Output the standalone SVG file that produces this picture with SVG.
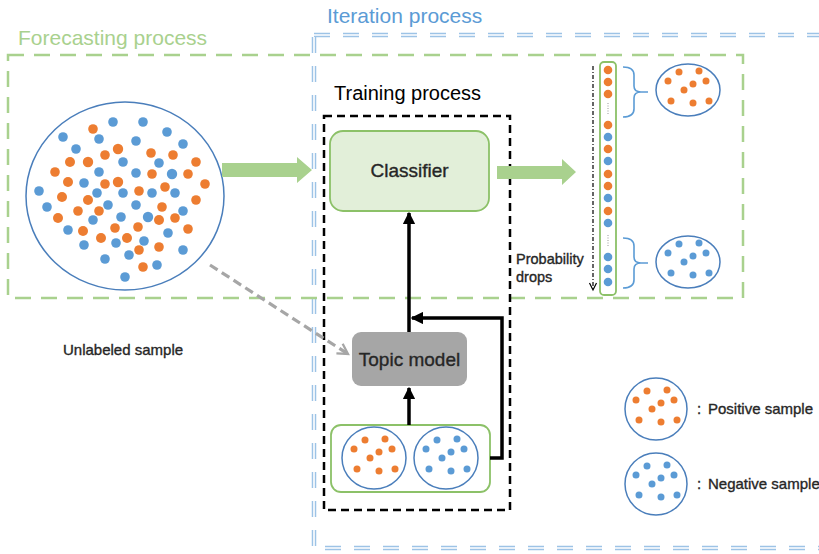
<svg xmlns="http://www.w3.org/2000/svg" xmlns:xlink="http://www.w3.org/1999/xlink" width="819" height="554" viewBox="0 0 819 554">
<style>
.t{font-family:"Liberation Sans",Arial,sans-serif;fill:#262626}
.hv{stroke:#262626;stroke-width:0.35}
.ring{fill:#fff;stroke:#4a7ebb;stroke-width:1.5}
.o{fill:#ed7d31}
.b{fill:#5b9bd5}
.blk{stroke:#000;stroke-width:3.5;fill:none}
</style>
<defs>
<g id="pdots" class="o">
<circle cx="-9" cy="-18" r="3.5"/><circle cx="11" cy="-19" r="3.5"/><circle cx="-20" cy="-9" r="3.5"/><circle cx="18" cy="-9" r="3.5"/><circle cx="5" cy="-6" r="3.5"/><circle cx="-4" cy="0" r="3.5"/><circle cx="-17" cy="11" r="3.5"/><circle cx="5" cy="13" r="3.5"/><circle cx="21" cy="11" r="3.5"/>
</g>
<g id="ndots" class="b">
<circle cx="-9" cy="-18" r="3.5"/><circle cx="11" cy="-19" r="3.5"/><circle cx="-20" cy="-9" r="3.5"/><circle cx="18" cy="-9" r="3.5"/><circle cx="5" cy="-6" r="3.5"/><circle cx="-4" cy="0" r="3.5"/><circle cx="-17" cy="11" r="3.5"/><circle cx="5" cy="13" r="3.5"/><circle cx="21" cy="11" r="3.5"/>
</g>
<marker id="ah" viewBox="0 0 10 10" refX="9" refY="5" markerWidth="3.6" markerHeight="3.6" orient="auto" markerUnits="strokeWidth">
<path d="M0,0 L10,5 L0,10 z" fill="#000"/>
</marker>
<marker id="gh" viewBox="0 0 10 10" refX="8" refY="5" markerWidth="4.5" markerHeight="4.5" orient="auto" markerUnits="strokeWidth">
<path d="M1,1 L8,5 L1,9" fill="none" stroke="#a6a6a6" stroke-width="1.6"/>
</marker>
</defs>
<rect width="819" height="554" fill="#fff"/>

<!-- Iteration process frame (double dashed) -->
<g id="iteration">
<rect x="314" y="35" width="540" height="513" fill="none" stroke="#9dc3e6" stroke-width="4.5" stroke-dasharray="16 13"/>
<rect x="314" y="35" width="540" height="513" fill="none" stroke="#fff" stroke-width="1.6" stroke-dasharray="16 13"/>
<text class="t" x="327" y="23" font-size="21" style="fill:#5b9bd5">Iteration process</text>
</g>

<!-- Forecasting process frame -->
<g id="forecasting">
<rect x="8" y="55" width="735" height="243" fill="none" stroke="#a9d18e" stroke-width="2.5" stroke-dasharray="16 10"/>
<text class="t" x="18" y="45" font-size="21" style="fill:#a9d18e">Forecasting process</text>
</g>

<!-- Training process frame -->
<g id="training">
<rect x="324" y="116" width="186" height="394" fill="none" stroke="#000" stroke-width="2.5" stroke-dasharray="8 5"/>
<text class="t" x="334" y="100" font-size="20" style="fill:#000">Training process</text>
</g>

<!-- Unlabeled sample -->
<g id="unlabeled">
<ellipse cx="125" cy="196" rx="99" ry="94" class="ring"/>
<g class="b">
<circle cx="113" cy="122" r="4.8"/><circle cx="143" cy="122" r="4.8"/><circle cx="63" cy="137" r="4.8"/><circle cx="99" cy="139" r="4.8"/><circle cx="136" cy="141" r="4.8"/><circle cx="167" cy="132" r="4.8"/><circle cx="183" cy="144" r="4.8"/><circle cx="76" cy="149" r="4.8"/><circle cx="123" cy="162" r="4.8"/><circle cx="159" cy="163" r="4.8"/><circle cx="99" cy="172" r="4.8"/><circle cx="136" cy="173" r="4.8"/><circle cx="172" cy="174" r="5.2"/><circle cx="84" cy="183" r="4.8"/><circle cx="39" cy="191" r="4.8"/><circle cx="97" cy="193" r="4.8"/><circle cx="123" cy="193" r="4.8"/><circle cx="152" cy="193" r="4.8"/><circle cx="175" cy="193" r="4.8"/><circle cx="47" cy="207" r="4.8"/><circle cx="108" cy="205" r="4.8"/><circle cx="136" cy="205" r="4.8"/><circle cx="183" cy="211" r="4.8"/><circle cx="93" cy="220" r="4.8"/><circle cx="121" cy="217" r="4.8"/><circle cx="148" cy="217" r="5.2"/><circle cx="68" cy="230" r="4.8"/><circle cx="168" cy="233" r="4.8"/><circle cx="84" cy="245" r="4.8"/><circle cx="116" cy="243" r="4.8"/><circle cx="144" cy="241" r="4.8"/><circle cx="129" cy="255" r="4.8"/><circle cx="183" cy="250" r="4.8"/><circle cx="105" cy="259" r="4.8"/><circle cx="157" cy="265" r="4.8"/><circle cx="125" cy="277" r="4.8"/>
</g>
<g class="o">
<circle cx="93" cy="129" r="4.8"/><circle cx="118" cy="149" r="5.2"/><circle cx="105" cy="155" r="4.8"/><circle cx="151" cy="153" r="4.8"/><circle cx="173" cy="155" r="4.8"/><circle cx="70" cy="162" r="5"/><circle cx="88" cy="162" r="5.2"/><circle cx="196" cy="162" r="4.8"/><circle cx="55" cy="172" r="4.8"/><circle cx="152" cy="174" r="4.8"/><circle cx="188" cy="174" r="4.8"/><circle cx="68" cy="182" r="5"/><circle cx="118" cy="182" r="5.2"/><circle cx="105" cy="184" r="4.8"/><circle cx="165" cy="187" r="4.8"/><circle cx="205" cy="184" r="4.8"/><circle cx="139" cy="191" r="4.8"/><circle cx="62" cy="197" r="5"/><circle cx="88" cy="200" r="5"/><circle cx="196" cy="200" r="4.8"/><circle cx="78" cy="211" r="4.8"/><circle cx="99" cy="211" r="4.8"/><circle cx="162" cy="207" r="4.8"/><circle cx="58" cy="218" r="5"/><circle cx="159" cy="220" r="5"/><circle cx="175" cy="218" r="4.8"/><circle cx="115" cy="228" r="4.8"/><circle cx="138" cy="227" r="4.8"/><circle cx="83" cy="231" r="5"/><circle cx="188" cy="229" r="4.8"/><circle cx="101" cy="238" r="5"/><circle cx="127" cy="238" r="5"/><circle cx="159" cy="247" r="4.8"/><circle cx="139" cy="250" r="4.8"/><circle cx="143" cy="267" r="4.8"/>
</g>
<text class="t hv" x="63" y="355" font-size="15">Unlabeled sample</text>
</g>

<!-- Classifier -->
<g id="classifier">
<rect x="330" y="131" width="159" height="80" rx="13" fill="#e2efd9" stroke="#8cc168" stroke-width="1.8"/>
<text class="t hv" x="409.5" y="177" font-size="19" text-anchor="middle">Classifier</text>
</g>

<!-- Topic model -->
<g id="topicmodel">
<rect x="352" y="332" width="115" height="54" rx="9" fill="#a6a6a6"/>
<text class="t hv" x="409.5" y="366" font-size="19" text-anchor="middle">Topic model</text>
</g>

<!-- Labeled samples -->
<g id="labeled">
<rect x="331" y="425" width="159" height="67" rx="10" fill="#fff" stroke="#8cc168" stroke-width="1.8"/>
<ellipse cx="374" cy="458" rx="32" ry="31" class="ring"/>
<use xlink:href="#pdots" x="374" y="458"/>
<ellipse cx="446" cy="458" rx="32" ry="31" class="ring"/>
<use xlink:href="#ndots" x="446" y="458"/>
</g>

<!-- Ranked list -->
<g id="ranking">
<rect x="600" y="62" width="16" height="233" rx="4" fill="#fff" stroke="#8cc168" stroke-width="1.8"/>
<g class="o">
<circle cx="608" cy="70" r="4.3"/><circle cx="608" cy="82" r="4.3"/><circle cx="608" cy="94" r="4.3"/><circle cx="608" cy="125" r="4.3"/><circle cx="608" cy="149" r="4.3"/><circle cx="608" cy="174" r="4.3"/><circle cx="608" cy="186" r="4.3"/><circle cx="608" cy="211" r="4.3"/>
</g>
<g class="b">
<circle cx="608" cy="137" r="4.3"/><circle cx="608" cy="161" r="4.3"/><circle cx="608" cy="198" r="4.3"/><circle cx="608" cy="223" r="4.3"/><circle cx="608" cy="257" r="4.3"/><circle cx="608" cy="269" r="4.3"/><circle cx="608" cy="282" r="4.3"/>
</g>
<line x1="608" y1="103" x2="608" y2="114" stroke="#999" stroke-width="1" stroke-dasharray="1 1.5"/>
<line x1="608" y1="235" x2="608" y2="246" stroke="#999" stroke-width="1" stroke-dasharray="1 1.5"/>
<line x1="593" y1="66" x2="593" y2="289" stroke="#000" stroke-width="1.2" stroke-dasharray="4 2 1 2"/>
<path d="M589.5,283 L593,290 L596.5,283" fill="none" stroke="#000" stroke-width="1.2"/>
<text class="t hv" x="516" y="264" font-size="14.5">Probability</text>
<text class="t hv" x="516" y="282" font-size="14.5">drops</text>
</g>

<!-- Positive group -->
<g id="positive-group">
<path d="M623,67 Q634,67 634,75 L634,86 Q634,92 641,92 L648,92 M641,92 Q634,92 634,98 L634,109 Q634,117 623,117" fill="none" stroke="#5b9bd5" stroke-width="1.6"/>
<ellipse cx="688" cy="90" rx="32" ry="26" class="ring"/>
<use xlink:href="#pdots" x="688" y="90"/>
</g>

<!-- Negative group -->
<g id="negative-group">
<path d="M623,238 Q634,238 634,246 L634,257 Q634,263 641,263 L648,263 M641,263 Q634,263 634,269 L634,280 Q634,288 623,288" fill="none" stroke="#5b9bd5" stroke-width="1.6"/>
<ellipse cx="688" cy="262" rx="32" ry="26" class="ring"/>
<use xlink:href="#ndots" x="688" y="262"/>
</g>

<!-- Legend -->
<g id="legend-positive">
<ellipse cx="656" cy="409" rx="31" ry="31" class="ring"/>
<use xlink:href="#pdots" x="656" y="409"/>
<text class="t hv" x="697" y="414" font-size="15">:<tspan x="708">Positive sample</tspan></text>
</g>
<g id="legend-negative">
<ellipse cx="656" cy="484" rx="31" ry="31" class="ring"/>
<use xlink:href="#ndots" x="656" y="484"/>
<text class="t hv" x="697" y="489" font-size="15">:<tspan x="708">Negative sample</tspan></text>
</g>

<!-- Connectors -->
<g id="connectors">
<polygon points="222,163 297,163 297,157 312,170 297,183 297,177 222,177" fill="#a9d18e"/>
<polygon points="497,166 562,166 562,159 576,172 562,185 562,179 497,179" fill="#a9d18e"/>
<line x1="210" y1="265" x2="348" y2="354" stroke="#a6a6a6" stroke-width="3.2" stroke-dasharray="9 5" marker-end="url(#gh)"/>
<line x1="409" y1="332" x2="409" y2="213" class="blk" marker-end="url(#ah)"/>
<line x1="409" y1="425" x2="409" y2="388" class="blk" marker-end="url(#ah)"/>
<path d="M490,458 H502 V318 H412" class="blk" marker-end="url(#ah)"/>
</g>
</svg>
